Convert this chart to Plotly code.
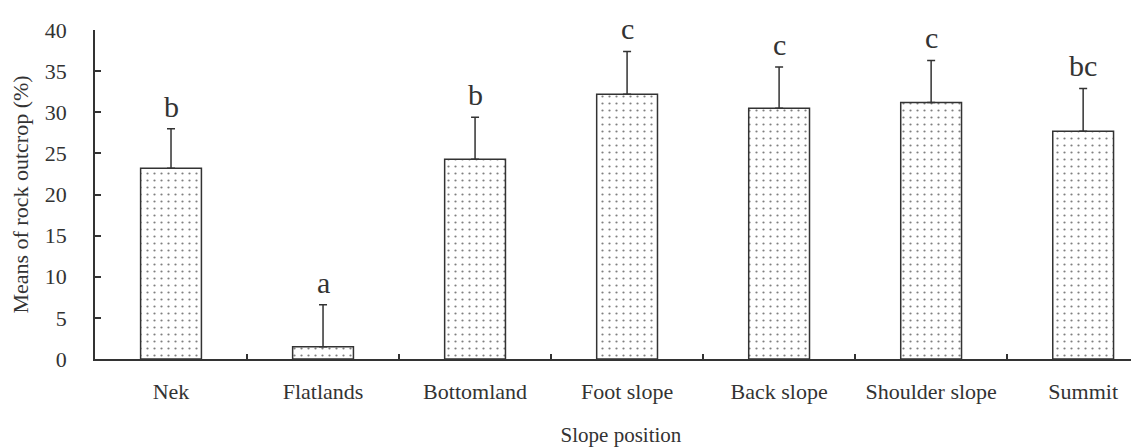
import plotly.graph_objects as go

positions = ["Nek", "Flatlands", "Bottomland", "Foot slope", "Back slope", "Shoulder slope", "Summit"]
means = [23.2, 1.5, 24.3, 32.2, 30.5, 31.2, 27.7]
errors = [4.8, 5.1, 5.1, 5.2, 5.0, 5.1, 5.2]
letters = ["b", "a", "b", "c", "c", "c", "bc"]

INK = "#333333"
FONT = "Liberation Serif"

fig = go.Figure()

fig.add_trace(
    go.Bar(
        x=positions,
        y=means,
        width=0.4,
        marker=dict(
            color="white",
            line=dict(color=INK, width=1.5),
            pattern=dict(shape=".", fgcolor="black", bgcolor="white", size=7, solidity=0.08),
        ),
        error_y=dict(
            type="data",
            symmetric=False,
            array=errors,
            arrayminus=[0] * len(errors),
            color=INK,
            thickness=1.5,
            width=4,
        ),
        showlegend=False,
    )
)

# significance letters sit just above each error bar
for pos, m, e, lab in zip(positions, means, errors, letters):
    fig.add_annotation(
        x=pos, y=m + e, text=lab, showarrow=False,
        yanchor="bottom", yshift=4,
        font=dict(family=FONT, size=30, color=INK),
    )

fig.update_xaxes(
    range=[-0.5, 6.42],
    showline=True, linecolor=INK, linewidth=1.5,
    ticks="inside", tickson="boundaries", ticklen=5, tickcolor=INK, tickwidth=1.5,
    tickfont=dict(family=FONT, size=22, color=INK),
    ticklabelstandoff=12,
    title=dict(text="Slope position", font=dict(family=FONT, size=21, color=INK), standoff=24),
    showgrid=False,
)
fig.update_yaxes(
    range=[0, 40], dtick=5,
    showline=True, linecolor=INK, linewidth=1.5,
    ticks="inside", ticklen=6, tickcolor=INK, tickwidth=1.5,
    tickfont=dict(family=FONT, size=22, color=INK),
    ticklabelstandoff=22,
    title=dict(text="Means of rock outcrop (%)", font=dict(family=FONT, size=22, color=INK), standoff=10),
    showgrid=False, zeroline=False,
)

fig.update_layout(
    width=1139, height=448,
    margin=dict(l=87, r=0, t=22, b=97),
    plot_bgcolor="white", paper_bgcolor="white",
)

fig.write_html("out.html")
